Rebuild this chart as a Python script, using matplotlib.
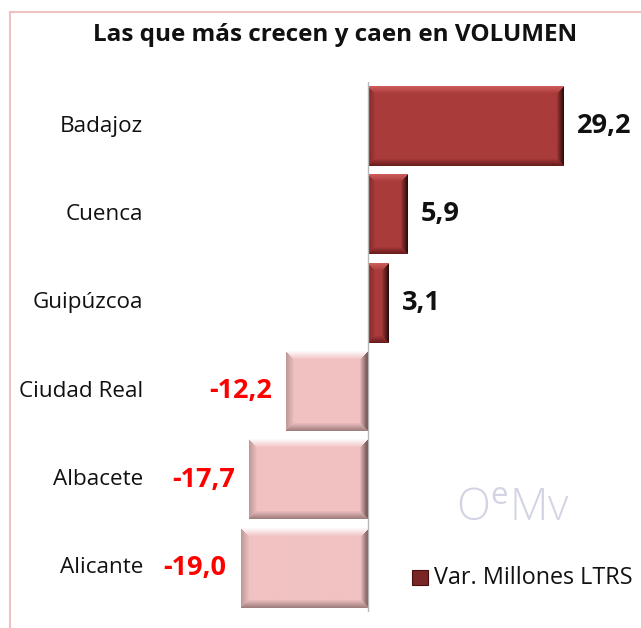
import numpy as np
import matplotlib
matplotlib.use("Agg")
import matplotlib.pyplot as plt
from matplotlib.patches import Rectangle
from matplotlib.colors import to_rgb

# ---- data ----
provincias = ["Badajoz", "Cuenca", "Guipúzcoa", "Ciudad Real", "Albacete", "Alicante"]
variacion = [29.2, 5.9, 3.1, -12.2, -17.7, -19.0]
etiquetas = ["29,2", "5,9", "3,1", "-12,2", "-17,7", "-19,0"]
titulo = "Las que más crecen y caen en VOLUMEN"
leyenda = "Var. Millones LTRS"
marca = r"O$^{\mathrm{e}}$Mv"

plt.rcParams['font.family'] = ['Open Sans', 'DejaVu Sans']
plt.rcParams['mathtext.fontset'] = 'custom'
plt.rcParams['mathtext.rm'] = 'Open Sans'

W, H = 641, 628
fig = plt.figure(figsize=(W / 100, H / 100), dpi=100)

# frame border
fig.add_artist(Rectangle((10 / W, -0.1), 1.0, 1 - 12 / H + 0.1, transform=fig.transFigure,
                         fill=False, edgecolor="#eec2c2", linewidth=1.5))

ax_l, ax_r, ax_t, ax_b = 150, 641, 82, 612
ax = fig.add_axes([ax_l / W, 1 - ax_b / H, (ax_r - ax_l) / W, (ax_b - ax_t) / H])
zero_px = 368
ppu = 6.71
ax.set_xlim((ax_l - zero_px) / ppu, (ax_r - zero_px) / ppu)
ax.set_ylim(len(provincias) - 0.5, -0.5)
ax.axis("off")

y = np.arange(len(provincias))
pos_col, neg_col = "#a93b3b", "#f1c2c2"
colors = [pos_col if v >= 0 else neg_col for v in variacion]
bars = ax.barh(y, variacion, height=0.9, color=colors, linewidth=0, zorder=2)

fig.canvas.draw()


def bevel(w, h, base, light, dark, side_dark, bw):
    base = np.array(to_rgb(base)); light = np.array(to_rgb(light))
    dark = np.array(to_rgb(dark)); side_dark = np.array(to_rgb(side_dark))
    yy, xx = np.mgrid[0:h, 0:w].astype(float)
    img = np.ones((h, w, 3)) * base
    dt, db, dl, dr = yy, h - 1 - yy, xx, w - 1 - xx
    dmin = np.minimum(np.minimum(dt, db), np.minimum(dl, dr))
    inside = dmin < bw
    f = np.clip(1 - dmin / bw, 0, 1)[..., None]
    top = (dt == dmin) & inside
    bot = (db == dmin) & inside & ~top
    left = (dl == dmin) & inside & ~top & ~bot
    right = (dr == dmin) & inside & ~top & ~bot & ~left
    lt = light * 0.9 + base * 0.1
    img[top] = (base * (1 - f) + lt * f)[top]
    img[bot] = (base * (1 - f) + dark * f)[bot]
    img[left] = (base * (1 - 0.6 * f) + dark * 0.6 * f)[left]
    img[right] = (base * (1 - f) + side_dark * f)[right]
    return img


for b, v in zip(bars, variacion):
    x0, x1 = sorted([b.get_x(), b.get_x() + b.get_width()])
    y0, y1 = b.get_y(), b.get_y() + b.get_height()
    (px0, py0), (px1, py1) = ax.transData.transform([(x0, y0), (x1, y1)])
    w = max(int(round(abs(px1 - px0))), 2)
    h = max(int(round(abs(py1 - py0))), 2)
    if v >= 0:
        img = bevel(w, h, pos_col, "#d0605e", "#6a1c1c", "#2e0c0c", 7)
    else:
        img = bevel(w, h, neg_col, "#ffffff", "#a07f7f", "#6b5252", 8)
    ax.imshow(img, extent=(x0, x1, y1, y0), aspect="auto", zorder=3, interpolation="bilinear")

ax.set_xlim((ax_l - zero_px) / ppu, (ax_r - zero_px) / ppu)
ax.set_ylim(len(provincias) - 0.5, -0.5)
ax.axvline(0, color="#b8b8b8", linewidth=1, zorder=4)

# category labels
for yi, name in zip(y, provincias):
    ax.annotate(name, xy=(0, yi), xycoords=("axes fraction", "data"), xytext=(-7, 0),
                textcoords="offset pixels", ha="right", va="center", fontsize=16.2, color="#111111")

# value labels
for yi, v, lab in zip(y, variacion, etiquetas):
    if v >= 0:
        ax.annotate(lab, xy=(v, yi), xytext=(13, 0), textcoords="offset pixels", ha="left",
                    va="center", fontsize=19.5, fontweight="bold", color="#111111")
    else:
        ax.annotate(lab, xy=(v, yi), xytext=(-14, 0), textcoords="offset pixels", ha="right",
                    va="center", fontsize=19.5, fontweight="bold", color="#ff0000")

fig.text(335 / W, 1 - 35 / H, titulo, ha="center", va="center", fontsize=17.5,
         fontweight="bold", color="#111111")

# watermark (single text)
fig.text(513 / W, 1 - 510 / H, marca, fontsize=32, color="#d2d4e4", ha="center", va="center",
         fontweight="light")

# legend
fig.add_artist(Rectangle((412 / W, 1 - 585 / H), 16 / W, 15 / H, transform=fig.transFigure,
                         facecolor="#7a2626", edgecolor="#4a1010", linewidth=0.8))
fig.text(434 / W, 1 - 578 / H, leyenda, ha="left", va="center", fontsize=16.8, color="#111111")

fig.savefig("out.png", dpi=100)
